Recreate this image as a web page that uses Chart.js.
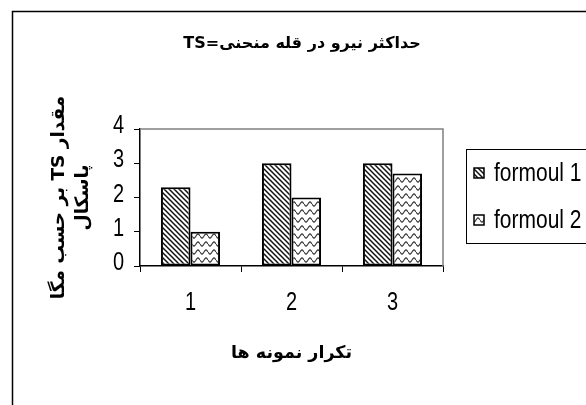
<!DOCTYPE html>
<html>
<head>
<meta charset="utf-8">
<script src="https://cdn.jsdelivr.net/npm/chart.js@4.4.1/dist/chart.umd.min.js"></script>
<style>
  html, body { margin: 0; padding: 0; background: #fff; }
  canvas { display: block; }
</style>
</head>
<body>
<canvas id="chart" width="586" height="405" dir="rtl"></canvas>
<script>
"use strict";

// values
const CATEGORIES = ["1", "2", "3"];
const SERIES_NAMES = ["formoul 1", "formoul 2"];
const FORMOUL_1 = [2.3, 3.0, 3.0];
const FORMOUL_2 = [1.0, 2.0, 2.7];
const Y_MIN = 0;
const Y_MAX = 4;
const Y_STEP = 1;

const TITLE = "حداکثر نیرو در قله منحنی=TS";
const Y_TITLE = ["مقدار TS بر حسب مگا", "پاسکال"];
const X_TITLE = "تکرار نمونه ها";

const LATIN = "'Liberation Sans', Arial, sans-serif";
const ARABIC = "'DejaVu Sans', 'Liberation Sans', sans-serif";

function hatchPattern() {
  const c = document.createElement("canvas");
  c.width = 5; c.height = 5;
  const g = c.getContext("2d");
  g.fillStyle = "#fff";
  g.fillRect(0, 0, 5, 5);
  g.strokeStyle = "#111";
  g.lineWidth = 1.5;
  for (const k of [-5, 0, 5]) {
    g.beginPath();
    g.moveTo(k - 1, -1);
    g.lineTo(k + 6, 6);
    g.stroke();
  }
  return g.createPattern(c, "repeat");
}

function wavePattern() {
  const c = document.createElement("canvas");
  c.width = 8; c.height = 8;
  const g = c.getContext("2d");
  g.fillStyle = "#fff";
  g.fillRect(0, 0, 8, 8);
  g.strokeStyle = "#333";
  g.lineWidth = 1.2;
  g.beginPath();
  for (let x = 0; x <= 8; x += 0.5) {
    const y = 4 + 2 * Math.sin(x / 8 * Math.PI * 2);
    if (x === 0) g.moveTo(x, y); else g.lineTo(x, y);
  }
  g.stroke();
  return g.createPattern(c, "repeat");
}

const FILLS = [hatchPattern(), wavePattern()];

// old office charts print their text tall and narrow
function tallText(ctx, text, x, y, align, size, sy) {
  ctx.save();
  ctx.translate(x, y);
  ctx.scale(1, sy);
  ctx.font = size + "px " + LATIN;
  ctx.textAlign = align;
  ctx.textBaseline = "middle";
  ctx.direction = "ltr";
  ctx.fillStyle = "#000";
  ctx.fillText(text, 0, 0);
  ctx.restore();
}

const framePlugin = {
  id: "frame",
  beforeDraw(chart) {
    const ctx = chart.ctx;
    ctx.save();
    ctx.fillStyle = "#fff";
    ctx.fillRect(0, 0, chart.width, chart.height);
    ctx.strokeStyle = "#000";
    ctx.lineWidth = 1.5;
    ctx.strokeRect(12.5, 11.5, 700, 500);
    ctx.restore();
  },
  beforeDatasetsDraw(chart) {
    const a = chart.chartArea;
    const ctx = chart.ctx;
    ctx.save();
    ctx.strokeStyle = "#808080";
    ctx.lineWidth = 1.5;
    ctx.beginPath();
    ctx.moveTo(a.left, a.top);
    ctx.lineTo(a.right, a.top);
    ctx.lineTo(a.right, a.bottom);
    ctx.stroke();
    ctx.restore();
  },
  afterDraw(chart) {
    const ctx = chart.ctx;
    const xs = chart.scales.x, ys = chart.scales.y;

    // tick labels
    xs.ticks.forEach((t, i) => {
      tallText(ctx, xs.getLabelForValue(t.value), xs.getPixelForTick(i), 303, "center", 20, 1.3);
    });
    ys.ticks.forEach(t => {
      tallText(ctx, t.label, 124, ys.getPixelForValue(t.value) - 3, "right", 20, 1.3);
    });

    ctx.save();
    // title
    ctx.direction = "rtl";
    ctx.fillStyle = "#000";
    ctx.font = "bold 16px " + ARABIC;
    ctx.textAlign = "center";
    ctx.textBaseline = "middle";
    ctx.fillText(TITLE, 302, 44);

    // legend
    ctx.direction = "ltr";
    ctx.strokeStyle = "#000";
    ctx.lineWidth = 1;
    ctx.strokeRect(466.5, 149.5, 200, 94);
    const rows = [173, 220];
    chart.data.datasets.forEach((ds, i) => {
      const y = rows[i];
      ctx.fillStyle = ds.backgroundColor;
      ctx.fillRect(474, y - 5, 10, 10);
      ctx.lineWidth = 1.5;
      ctx.strokeRect(474, y - 5, 10, 10);
      tallText(ctx, ds.label, 494, y + 1, "left", 21, 1.2);
    });
    ctx.restore();
  },
};

const chart = new Chart(document.getElementById("chart"), {
  type: "bar",
  data: {
    labels: CATEGORIES,
    datasets: [FORMOUL_1, FORMOUL_2].map((vals, i) => ({
      label: SERIES_NAMES[i],
      data: vals,
      backgroundColor: FILLS[i],
      borderColor: "#000",
      borderWidth: 2,
      borderSkipped: false,
      categoryPercentage: 0.585,
      barPercentage: 1.0,
    })),
  },
  options: {
    responsive: false,
    devicePixelRatio: 1,
    animation: false,
    layout: { padding: { left: 0, top: 129, right: 143, bottom: 0 } },
    plugins: {
      legend: { display: false },
      title: { display: false },
      tooltip: { enabled: false },
    },
    scales: {
      x: {
        offset: true,
        grid: { offset: true, drawOnChartArea: false, drawTicks: true, tickLength: 6, color: "#000", lineWidth: 1 },
        border: { color: "#000", width: 1.5 },
        ticks: { display: false, maxRotation: 0 },
        title: {
          display: true,
          text: X_TITLE,
          color: "#000",
          font: { family: ARABIC, size: 17.5, weight: "bold" },
          padding: { top: 0, bottom: 41 },
        },
        afterFit(scale) { scale.height = 139; },
      },
      y: {
        min: Y_MIN,
        max: Y_MAX,
        grid: { drawOnChartArea: false, drawTicks: true, tickLength: 6, color: "#000", lineWidth: 1 },
        border: { color: "#000", width: 1.5 },
        ticks: { display: false, stepSize: Y_STEP },
        title: {
          display: true,
          text: Y_TITLE,
          color: "#000",
          font: { family: ARABIC, size: 18.5, weight: "bold", lineHeight: 1.25 },
          padding: { top: 48, bottom: 0 },
        },
        afterFit(scale) { scale.width = 140; },
      },
    },
  },
  plugins: [framePlugin],
});
</script>
</body>
</html>
